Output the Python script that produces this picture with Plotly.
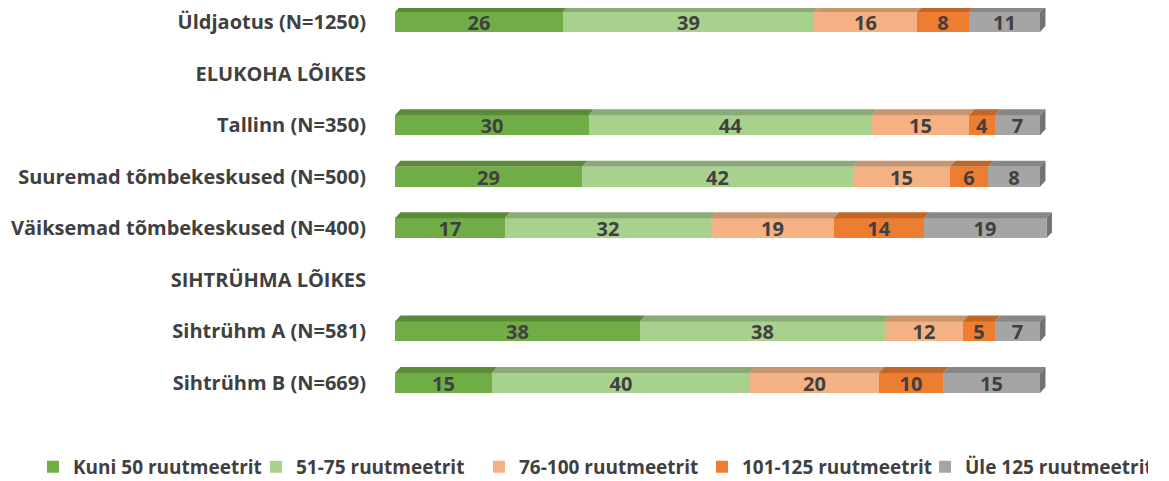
import plotly.graph_objects as go

# data
categories = [
    "Üldjaotus (N=1250)",
    "ELUKOHA LÕIKES",
    "Tallinn (N=350)",
    "Suuremad tõmbekeskused (N=500)",
    "Väiksemad tõmbekeskused (N=400)",
    "SIHTRÜHMA LÕIKES",
    "Sihtrühm A (N=581)",
    "Sihtrühm B (N=669)",
]
series_names = [
    "Kuni 50 ruutmeetrit",
    "51-75 ruutmeetrit",
    "76-100 ruutmeetrit",
    "101-125 ruutmeetrit",
    "Üle 125 ruutmeetrit",
]
kuni_50 = [26, None, 30, 29, 17, None, 38, 15]
r51_75 = [39, None, 44, 42, 32, None, 38, 40]
r76_100 = [16, None, 15, 15, 19, None, 12, 20]
r101_125 = [8, None, 4, 6, 14, None, 5, 10]
yle_125 = [11, None, 7, 8, 19, None, 7, 15]

series_values = [kuni_50, r51_75, r76_100, r101_125, yle_125]

FRONT = ["#70AD47", "#A9D18E", "#F4B183", "#ED7D31", "#A5A5A5"]
TOP = ["#5A8B39", "#8AAB75", "#C9956F", "#C26628", "#878787"]
SIDE = "#737373"
FONT_COLOR = "#404040"
FONT = "Open Sans"
FS = 20

BAR_W = 0.388
DX = 0.85   # depth offset in x units
DY = 0.116  # depth offset in y units

ypos = list(range(len(categories)))

fig = go.Figure()

for name, vals, col in zip(series_names, series_values, FRONT):
    fig.add_trace(go.Bar(
        name=name,
        y=ypos,
        x=vals,
        orientation="h",
        width=BAR_W,
        marker=dict(color=col, line=dict(width=0)),
        text=[str(v) if v is not None else "" for v in vals],
        textposition="inside",
        insidetextanchor="middle",
        textangle=0,
        textfont=dict(color=FONT_COLOR, size=FS, family=FONT, weight="bold"),
    ))

# 3d look: top faces and right side face, computed from the stacked values
shapes = []
for i, y in enumerate(ypos):
    if kuni_50[i] is None:
        continue
    top = y - BAR_W / 2
    bot = y + BAR_W / 2
    start = 0
    for vals, col in zip(series_values, TOP):
        end = start + vals[i]
        path = (f"M {start},{top} L {start + DX},{top - DY} "
                f"L {end + DX},{top - DY} L {end},{top} Z")
        shapes.append(dict(type="path", path=path, xref="x", yref="y",
                           fillcolor=col, line=dict(width=0), layer="above"))
        start = end
    path = (f"M {start},{top} L {start + DX},{top - DY} "
            f"L {start + DX},{bot - DY} L {start},{bot} Z")
    shapes.append(dict(type="path", path=path, xref="x", yref="y",
                       fillcolor=SIDE, line=dict(width=0), layer="above"))

fig.update_layout(
    barmode="stack",
    width=1161,
    height=473,
    margin=dict(l=387, r=0, t=0, b=60, autoexpand=False),
    plot_bgcolor="white",
    paper_bgcolor="white",
    font=dict(family=FONT, color=FONT_COLOR, size=FS, weight="bold"),
    shapes=shapes,
    bargap=0,
    showlegend=True,
    uniformtext=dict(minsize=FS, mode="show"),
    legend=dict(
        orientation="h",
        xref="paper", yref="paper",
        x=-0.4677, xanchor="left",
        y=-0.111, yanchor="middle",
        font=dict(size=19, color=FONT_COLOR, family=FONT, weight="bold"),
        traceorder="normal",
        itemwidth=30,
        entrywidth=178,
        entrywidthmode="pixels",
    ),
)

fig.update_xaxes(range=[0, 120], visible=False, fixedrange=True)
fig.update_yaxes(
    range=[7.737, -0.2715],
    tickvals=ypos,
    ticktext=categories,
    showgrid=False,
    zeroline=False,
    showline=False,
    ticks="",
    ticklabelstandoff=28,
    tickfont=dict(size=FS, color=FONT_COLOR, family=FONT, weight="bold"),
)

fig.write_html("out.html")
